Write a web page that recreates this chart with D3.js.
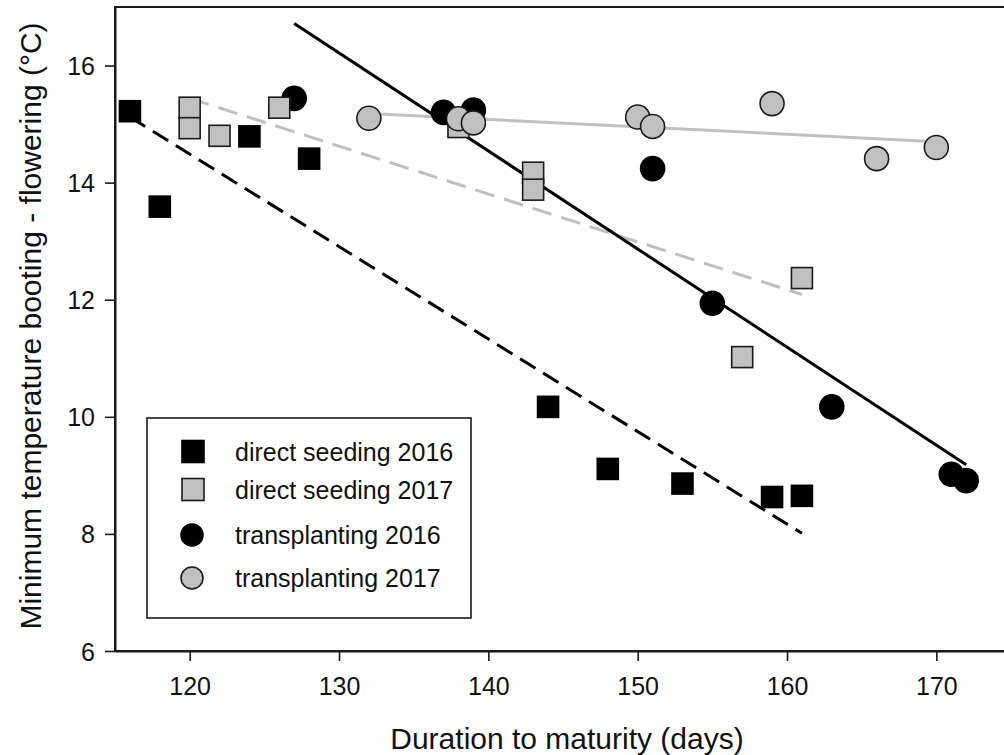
<!DOCTYPE html>
<html>
<head>
<meta charset="utf-8">
<script src="https://cdn.jsdelivr.net/npm/d3@7"></script>
<style>
  html, body { margin: 0; padding: 0; background: #fff; }
  svg { display: block; }
  text { font-family: "Liberation Sans", Arial, sans-serif; fill: #111; }
</style>
</head>
<body>
<svg id="chart" width="1004" height="755"></svg>
<script>
// ---- data ----
const xTicks = [120, 130, 140, 150, 160, 170];
const yTicks = [6, 8, 10, 12, 14, 16];

const seriesNames = ["direct seeding 2016", "direct seeding 2017", "transplanting 2016", "transplanting 2017"];

const ds2016Days = [116, 118, 124, 128, 144, 148, 153, 159, 161];
const ds2016Temp = [15.22, 13.59, 14.79, 14.41, 10.17, 9.11, 8.86, 8.63, 8.65];

const ds2017Days = [120, 120, 122, 126, 138, 143, 143, 157, 161];
const ds2017Temp = [15.28, 14.93, 14.80, 15.28, 14.95, 14.17, 13.88, 11.02, 12.37];

const tp2016Days = [127, 137, 139, 151, 155, 163, 171, 172];
const tp2016Temp = [15.44, 15.20, 15.24, 14.24, 11.94, 10.17, 9.02, 8.91];

const tp2017Days = [132, 138, 139, 150, 151, 159, 166, 170];
const tp2017Temp = [15.10, 15.09, 15.02, 15.12, 14.96, 15.35, 14.41, 14.60];

// fitted regression lines: [startDay, endDay], [startTemp, endTemp]
const fitDs2016Days = [116, 161];   const fitDs2016Temp = [15.12, 8.01];
const fitDs2017Days = [120, 161];   const fitDs2017Temp = [15.44, 12.09];
const fitTp2016Days = [127, 172];   const fitTp2016Temp = [16.72, 9.18];
const fitTp2017Days = [132, 170];   const fitTp2017Temp = [15.18, 14.70];

// ---- layout ----
const svg = d3.select("#chart");
const pLeft = 115, pRight = 1011, pTop = 7, pBottom = 651;
const x = d3.scaleLinear().domain([115, 175]).range([pLeft, pRight]);
const y = d3.scaleLinear().domain([6, 17]).range([pBottom, pTop]);

const GRAY = "#c0c0c0";
const AX = "#1a1a1a";

// frame (top / right)
svg.append("rect")
  .attr("x", pLeft).attr("y", pTop)
  .attr("width", pRight - pLeft).attr("height", pBottom - pTop)
  .attr("fill", "none").attr("stroke", AX).attr("stroke-width", 2);

// axes
const xAxis = svg.append("g").attr("transform", `translate(0,${pBottom})`)
  .call(d3.axisBottom(x).tickValues(xTicks).tickSize(10).tickSizeOuter(0));
xAxis.select(".domain").attr("stroke", AX).attr("stroke-width", 2);
xAxis.selectAll(".tick line").attr("stroke", AX).attr("stroke-width", 1.6);
xAxis.selectAll(".tick text").attr("y", 44).attr("dy", 0)
  .style("font-size", "25px").attr("fill", "#111");

const yAxis = svg.append("g").attr("transform", `translate(${pLeft},0)`)
  .call(d3.axisLeft(y).tickValues(yTicks).tickSize(10).tickSizeOuter(0).tickPadding(10));
yAxis.select(".domain").attr("stroke", AX).attr("stroke-width", 2);
yAxis.selectAll(".tick line").attr("stroke", AX).attr("stroke-width", 1.6);
yAxis.selectAll(".tick text").style("font-size", "25px").attr("dy", "0.36em").attr("fill", "#111");

// axis titles
svg.append("text")
  .attr("x", (pLeft + pRight) / 2 + 4).attr("y", 749)
  .attr("text-anchor", "middle").style("font-size", "30px")
  .text("Duration to maturity (days)");
svg.append("text")
  .attr("transform", "translate(41,326) rotate(-90)")
  .attr("text-anchor", "middle").style("font-size", "30px")
  .text("Minimum temperature booting - flowering (°C)");

// ---- plot area ----
svg.append("clipPath").attr("id", "clip").append("rect")
  .attr("x", pLeft).attr("y", pTop).attr("width", pRight - pLeft).attr("height", pBottom - pTop);
const plot = svg.append("g").attr("clip-path", "url(#clip)");

const line = d3.line().x(d => x(d[0])).y(d => y(d[1]));
const fits = [
  { d: d3.zip(fitDs2016Days, fitDs2016Temp), color: "#000", dash: "18,9" },
  { d: d3.zip(fitDs2017Days, fitDs2017Temp), color: GRAY, dash: "20,10" },
  { d: d3.zip(fitTp2016Days, fitTp2016Temp), color: "#000", dash: null },
  { d: d3.zip(fitTp2017Days, fitTp2017Temp), color: GRAY, dash: null }
];
fits.forEach(f => {
  plot.append("path").attr("d", line(f.d))
    .attr("fill", "none").attr("stroke", f.color).attr("stroke-width", 3)
    .attr("stroke-dasharray", f.dash);
});

const SQ = 21, R = 12;
function squares(days, temps, fill, stroke) {
  plot.append("g").selectAll("rect").data(d3.zip(days, temps)).join("rect")
    .attr("x", d => x(d[0]) - SQ / 2).attr("y", d => y(d[1]) - SQ / 2)
    .attr("width", SQ).attr("height", SQ)
    .attr("fill", fill).attr("stroke", stroke).attr("stroke-width", 1.6);
}
function circles(days, temps, fill, stroke) {
  plot.append("g").selectAll("circle").data(d3.zip(days, temps)).join("circle")
    .attr("cx", d => x(d[0])).attr("cy", d => y(d[1])).attr("r", R)
    .attr("fill", fill).attr("stroke", stroke).attr("stroke-width", 1.6);
}
squares(ds2016Days, ds2016Temp, "#000", "#000");
circles(tp2016Days, tp2016Temp, "#000", "#000");
squares(ds2017Days, ds2017Temp, GRAY, "#1a1a1a");
circles(tp2017Days, tp2017Temp, GRAY, "#1a1a1a");

// ---- legend ----
const lg = svg.append("g");
lg.append("rect").attr("x", 147).attr("y", 418).attr("width", 324).attr("height", 200)
  .attr("fill", "#fff").attr("stroke", AX).attr("stroke-width", 1.6);
const legendRows = [
  { shape: "square", fill: "#000", cy: 451.5 },
  { shape: "square", fill: GRAY, cy: 489.5 },
  { shape: "circle", fill: "#000", cy: 535 },
  { shape: "circle", fill: GRAY, cy: 578 }
];
legendRows.forEach((r, i) => {
  if (r.shape === "square") {
    lg.append("rect").attr("x", 193 - 11).attr("y", r.cy - 11).attr("width", 22).attr("height", 22)
      .attr("fill", r.fill).attr("stroke", r.fill === GRAY ? "#1a1a1a" : "#000").attr("stroke-width", 1.6);
  } else {
    lg.append("circle").attr("cx", 192).attr("cy", r.cy).attr("r", 11)
      .attr("fill", r.fill).attr("stroke", r.fill === GRAY ? "#1a1a1a" : "#000").attr("stroke-width", 1.6);
  }
  lg.append("text").attr("x", 235).attr("y", r.cy + 9).style("font-size", "25px")
    .text(seriesNames[i]);
});
</script>
</body>
</html>
